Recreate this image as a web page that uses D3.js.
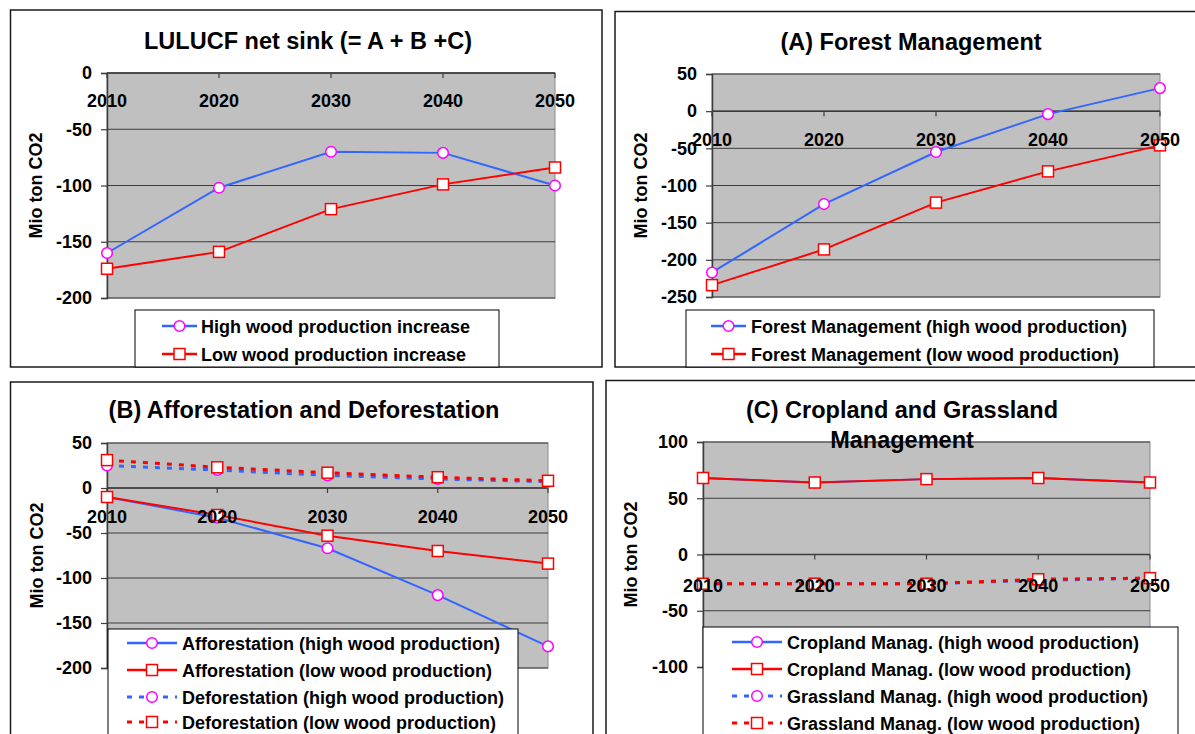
<!DOCTYPE html>
<html>
<head>
<meta charset="utf-8">
<script src="https://cdn.jsdelivr.net/npm/d3@7"></script>
<style>
  body { margin: 0; background: #fff; }
  svg { display: block; font-family: "Liberation Sans", Arial, sans-serif; font-weight: bold; }
</style>
</head>
<body>
<svg id="chart" width="1195" height="734"></svg>
<script>
// categories
const years = ["2010", "2020", "2030", "2040", "2050"];

// LULUCF net sink (= A + B + C)
const netHigh = [-160, -102, -70, -71, -100];
const netLow = [-174, -159, -121, -99, -84];
// (A) forest management
const fmHigh = [-217, -125, -55, -4, 31];
const fmLow = [-234, -186, -123, -81, -46];
// (B) afforestation / deforestation
const affHigh = [-10, -33, -67, -119, -176];
const affLow = [-10, -30, -53, -70, -84];
const defHigh = [25, 20, 14, 10, 7];
const defLow = [31, 23, 17, 12, 8];
// (C) cropland / grassland
const cropHigh = [68, 64, 67, 68, 64];
const cropLow = [68, 64, 67, 68, 64];
const grassHigh = [-26, -26, -26, -23, -21];
const grassLow = [-26, -26, -26, -22, -21];

// y tick labels
const ticksNet = [0, -50, -100, -150, -200];
const ticksFM = [50, 0, -50, -100, -150, -200, -250];
const ticksB = [50, 0, -50, -100, -150, -200];
const ticksC = [100, 50, 0, -50, -100];

const BLUE = "#3366ff", RED = "#ff0000", MAGENTA = "#ff00ff";

const svg = d3.select("#chart");

function series(name, values, high, dashed) {
  return { name: name, values: values, high: high, dashed: dashed };
}

const panels = [
  {
    frame: [10.5, 10, 591.5, 357],
    plot: { l: 107, r: 555, t: 73, b: 298 },
    domain: [-200, 0], ticks: ticksNet, labOff: 34,
    titles: [{ text: "LULUCF net sink (= A + B +C)", x: 308, y: 49 }],
    ylabX: 35,
    series: [
      series("High wood production increase", netHigh, true, false),
      series("Low wood production increase", netLow, false, false)
    ],
    legend: { x: 135, y: 310, w: 364, h: 57, rows: [326, 354], l1: 162, l2: 197, tx: 201 }
  },
  {
    frame: [615, 11.5, 600, 355.5],
    plot: { l: 712, r: 1160, t: 74, b: 297 },
    domain: [-250, 50], ticks: ticksFM, labOff: 35,
    titles: [{ text: "(A) Forest Management", x: 911, y: 50 }],
    ylabX: 640,
    series: [
      series("Forest Management (high wood production)", fmHigh, true, false),
      series("Forest Management (low wood production)", fmLow, false, false)
    ],
    legend: { x: 686, y: 310, w: 468, h: 57, rows: [326, 354], l1: 711, l2: 746, tx: 751 }
  },
  {
    frame: [10.5, 382, 582.5, 370],
    plot: { l: 107, r: 548, t: 443, b: 668 },
    domain: [-200, 50], ticks: ticksB, labOff: 35,
    titles: [{ text: "(B) Afforestation and Deforestation", x: 304, y: 418 }],
    ylabX: 36,
    series: [
      series("Afforestation (high wood production)", affHigh, true, false),
      series("Afforestation (low wood production)", affLow, false, false),
      series("Deforestation (high wood production)", defHigh, true, true),
      series("Deforestation (low wood production)", defLow, false, true)
    ],
    legend: { x: 108, y: 629, w: 410, h: 120, rows: [643, 670, 697, 722], l1: 127, l2: 177, tx: 182 }
  },
  {
    frame: [606, 380.5, 600, 370],
    plot: { l: 703, r: 1150, t: 442, b: 667 },
    domain: [-100, 100], ticks: ticksC, labOff: 37,
    titles: [
      { text: "(C) Cropland and Grassland", x: 902, y: 418 },
      { text: "Management", x: 902, y: 448 }
    ],
    ylabX: 630,
    series: [
      series("Cropland Manag. (high wood production)", cropHigh, true, false),
      series("Cropland Manag. (low wood production)", cropLow, false, false),
      series("Grassland Manag. (high wood production)", grassHigh, true, true),
      series("Grassland Manag. (low wood production)", grassLow, false, true)
    ],
    legend: { x: 703, y: 627, w: 475, h: 120, rows: [642, 669, 696, 723], l1: 732, l2: 782, tx: 787 }
  }
];

function drawMarker(g, high, cx, cy) {
  if (high) {
    g.append("circle").attr("cx", cx).attr("cy", cy).attr("r", 5.3)
      .attr("fill", "#fff").attr("stroke", MAGENTA).attr("stroke-width", 1.5);
  } else {
    g.append("rect").attr("x", cx - 5.5).attr("y", cy - 5.5).attr("width", 11).attr("height", 11)
      .attr("fill", "#fff").attr("stroke", RED).attr("stroke-width", 1.5);
  }
}

panels.forEach(function (p) {
  const g = svg.append("g");

  // outer frame
  g.append("rect")
    .attr("x", p.frame[0]).attr("y", p.frame[1])
    .attr("width", p.frame[2]).attr("height", p.frame[3])
    .attr("fill", "none").attr("stroke", "#1a1a1a").attr("stroke-width", 1.5);

  const x = d3.scalePoint().domain(years).range([p.plot.l, p.plot.r]).padding(0);
  const y = d3.scaleLinear().domain(p.domain).range([p.plot.b, p.plot.t]);

  // plot area
  g.append("rect")
    .attr("x", p.plot.l).attr("y", p.plot.t)
    .attr("width", p.plot.r - p.plot.l).attr("height", p.plot.b - p.plot.t)
    .attr("fill", "#c0c0c0").attr("stroke", "#8a8a8a").attr("stroke-width", 1);

  // gridlines
  g.selectAll(".grid").data(p.ticks).enter().append("line")
    .attr("x1", p.plot.l).attr("x2", p.plot.r)
    .attr("y1", function (d) { return y(d); }).attr("y2", function (d) { return y(d); })
    .attr("stroke", "#3c3c3c").attr("stroke-width", 1);

  // y axis
  const yAxis = d3.axisLeft(y).tickValues(p.ticks).tickSize(6).tickPadding(9)
    .tickFormat(function (d) { return String(d); });
  const ya = g.append("g").attr("transform", "translate(" + p.plot.l + ",0)").call(yAxis);
  ya.select(".domain").attr("stroke", "#3c3c3c").attr("stroke-width", 1.5);
  ya.selectAll(".tick line").attr("stroke", "#3c3c3c").attr("stroke-width", 1.2);
  ya.selectAll("text").attr("fill", "#000").style("font-size", "18px")
    .style("font-family", "'Liberation Sans', Arial, sans-serif").style("font-weight", "bold");

  // x axis line at zero
  const y0 = y(0);
  g.append("line").attr("x1", p.plot.l).attr("x2", p.plot.r).attr("y1", y0).attr("y2", y0)
    .attr("stroke", "#3c3c3c").attr("stroke-width", 1.5);
  g.selectAll(".xt").data(years).enter().append("line")
    .attr("x1", function (d) { return x(d); }).attr("x2", function (d) { return x(d); })
    .attr("y1", y0).attr("y2", y0 + 5)
    .attr("stroke", "#3c3c3c").attr("stroke-width", 1.2);

  // series
  p.series.forEach(function (s) {
    const pts = years.map(function (yr, i) { return [x(yr), y(s.values[i])]; });
    g.append("path")
      .attr("d", d3.line()(pts))
      .attr("fill", "none")
      .attr("stroke", s.high ? BLUE : RED)
      .attr("stroke-width", s.dashed ? 3 : 2)
      .attr("stroke-dasharray", s.dashed ? "5,7" : null);
    pts.forEach(function (pt) { drawMarker(g, s.high, pt[0], pt[1]); });
  });

  // category labels
  g.selectAll(".xl").data(years).enter().append("text")
    .attr("x", function (d) { return x(d); })
    .attr("y", y0 + p.labOff)
    .attr("text-anchor", "middle")
    .style("font-size", "18px")
    .text(function (d) { return d; });

  // titles
  p.titles.forEach(function (t) {
    g.append("text").attr("x", t.x).attr("y", t.y).attr("text-anchor", "middle")
      .style("font-size", "23.5px").text(t.text);
  });

  // y axis title
  const cy = (p.plot.t + p.plot.b) / 2;
  g.append("text")
    .attr("transform", "translate(" + (p.ylabX + 6.5) + "," + cy + ") rotate(-90)")
    .attr("text-anchor", "middle")
    .style("font-size", "18px")
    .text("Mio ton CO2");

  // legend
  const L = p.legend;
  g.append("rect").attr("x", L.x).attr("y", L.y).attr("width", L.w).attr("height", L.h)
    .attr("fill", "#fff").attr("stroke", "#000").attr("stroke-width", 1);
  p.series.forEach(function (s, i) {
    const ry = L.rows[i];
    g.append("line").attr("x1", L.l1).attr("x2", L.l2).attr("y1", ry).attr("y2", ry)
      .attr("stroke", s.high ? BLUE : RED)
      .attr("stroke-width", s.dashed ? 3 : 2.5)
      .attr("stroke-dasharray", s.dashed ? "5,7" : null);
    drawMarker(g, s.high, (L.l1 + L.l2) / 2, ry);
    g.append("text").attr("x", L.tx).attr("y", ry + 6.5)
      .style("font-size", "18px").text(s.name);
  });
});
</script>
</body>
</html>
